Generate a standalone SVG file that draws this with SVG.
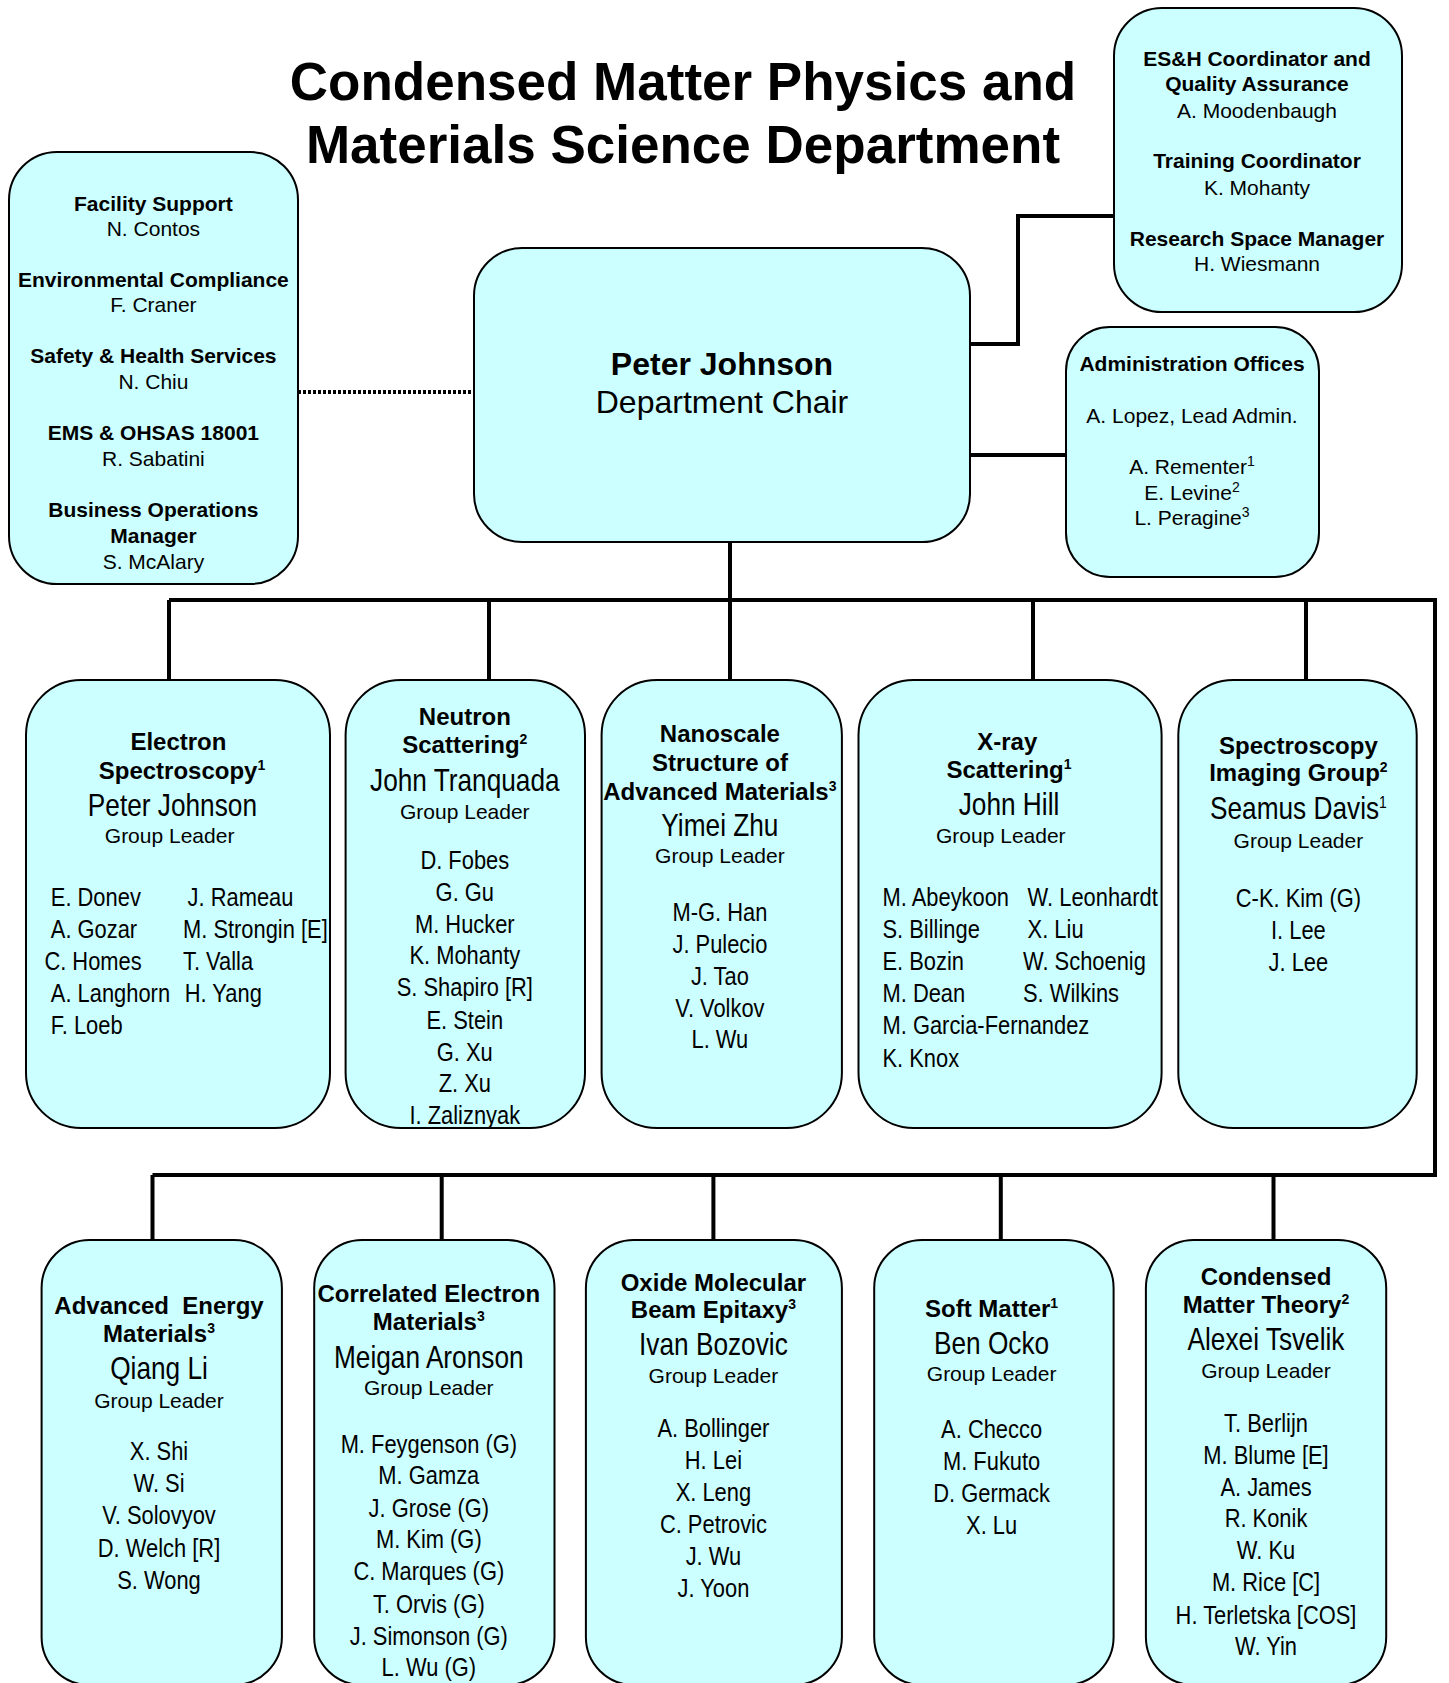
<svg xmlns="http://www.w3.org/2000/svg" width="1449" height="1683" viewBox="0 0 1449 1683">
<style>
.bg{fill:#ffffff}
.box{fill:#CCFFFF;stroke:#000;stroke-width:2}
.ln{fill:none;stroke:#000;stroke-width:4}
.dot{fill:none;stroke:#000;stroke-width:4;stroke-dasharray:3 2}
text{fill:#000;text-anchor:middle}
.t{font-family:"Liberation Sans",Arial,sans-serif;font-weight:bold;font-size:53px}
.b{font-family:"Liberation Sans",Arial,sans-serif;font-weight:bold;font-size:21px}
.r{font-family:"Liberation Sans",Arial,sans-serif;font-size:21px}
.pj{font-family:"Liberation Sans",Arial,sans-serif;font-weight:bold;font-size:32px}
.dc{font-family:"Liberation Sans",Arial,sans-serif;font-size:32px}
.gt{font-family:"Liberation Sans",Arial,sans-serif;font-weight:bold;font-size:24px}
.gn{font-family:"Liberation Sans",Arial,sans-serif;font-size:32px}
.gl{font-family:"Liberation Sans",Arial,sans-serif;font-size:21px}
.m{font-family:"Liberation Sans",Arial,sans-serif;font-size:26.7px}
.lft{text-anchor:start}
.sup{font-size:14px}
.sup2{font-size:17px}
</style>
<rect class="bg" x="0" y="0" width="1449" height="1683"/>

<g id="connectors">
<path class="dot" d="M298,392 H474"/>
<path class="ln" d="M970,344 H1018 V216 H1114"/>
<path class="ln" d="M970,455 H1066"/>
<path class="ln" d="M730,542 V680"/>
<path class="ln" d="M169,600 H1435 V1175 H152.5"/>
<path class="ln" d="M169,600 V680 M489,600 V680 M1033,600 V680 M1306,600 V680"/>
<path class="ln" d="M152.5,1175 V1240 M441.7,1175 V1240 M713.4,1175 V1240 M1000.8,1175 V1240 M1273.5,1175 V1240"/>
</g>

<g id="title">
<text class="t" x="683" y="100">Condensed Matter Physics and</text>
<text class="t" x="683" y="163">Materials Science Department</text>
</g>

<g id="facility">
<rect class="box" x="9" y="152" width="289" height="432" rx="48" ry="48"/>
<text class="b" x="153.4" y="210.5">Facility Support</text>
<text class="r" x="153.4" y="235.6">N. Contos</text>
<text class="b" x="153.4" y="286.6">Environmental Compliance</text>
<text class="r" x="153.4" y="312.4">F. Craner</text>
<text class="b" x="153.4" y="363.3">Safety &amp; Health Services</text>
<text class="r" x="153.4" y="389.2">N. Chiu</text>
<text class="b" x="153.4" y="439.6">EMS &amp; OHSAS 18001</text>
<text class="r" x="153.4" y="465.8">R. Sabatini</text>
<text class="b" x="153.4" y="516.9">Business Operations</text>
<text class="b" x="153.4" y="542.5">Manager</text>
<text class="r" x="153.4" y="568.5">S. McAlary</text>
</g>

<g id="esh">
<rect class="box" x="1114" y="8" width="288" height="304" rx="48" ry="48"/>
<text class="b" x="1257" y="66.4">ES&amp;H Coordinator and</text>
<text class="b" x="1257" y="91.4">Quality Assurance</text>
<text class="r" x="1257" y="117.8">A. Moodenbaugh</text>
<text class="b" x="1257" y="168.2">Training Coordinator</text>
<text class="r" x="1257" y="195">K. Mohanty</text>
<text class="b" x="1257" y="245.5">Research Space Manager</text>
<text class="r" x="1257" y="270.9">H. Wiesmann</text>
</g>

<g id="chair">
<rect class="box" x="474" y="248" width="496" height="294" rx="48" ry="48"/>
<text class="pj" x="722" y="375">Peter Johnson</text>
<text class="dc" x="722" y="413">Department Chair</text>
</g>

<g id="admin">
<rect class="box" x="1066" y="327" width="253" height="250" rx="44" ry="44"/>
<text class="b" x="1192" y="371.3">Administration Offices</text>
<text class="r" x="1192" y="422.7">A. Lopez, Lead Admin.</text>
<text class="r" x="1192" y="474">A. Rementer<tspan class="sup" dy="-8">1</tspan></text>
<text class="r" x="1192" y="499.5">E. Levine<tspan class="sup" dy="-8">2</tspan></text>
<text class="r" x="1192" y="525.4">L. Peragine<tspan class="sup" dy="-8">3</tspan></text>
</g>

<g id="electron">
<rect class="box" x="26" y="680" width="304" height="448" rx="55" ry="55"/>
<text class="gt" x="178.4" y="749.6">Electron</text>
<text class="gt" x="182" y="778.9">Spectroscopy<tspan class="sup" dy="-9">1</tspan></text>
<text class="gn" transform="translate(172.4 815.8) scale(0.82 1)">Peter Johnson</text>
<text class="gl" x="169.6" y="842.7">Group Leader</text>
<text class="m lft" transform="translate(50.8 906.2) scale(0.82 1)">E. Donev</text>
<text class="m lft" transform="translate(50.8 937.7) scale(0.82 1)">A. Gozar</text>
<text class="m lft" transform="translate(44.4 969.7) scale(0.82 1)">C. Homes</text>
<text class="m lft" transform="translate(50.8 1001.6) scale(0.82 1)">A. Langhorn</text>
<text class="m lft" transform="translate(50.8 1033.5) scale(0.82 1)">F. Loeb</text>
<text class="m lft" transform="translate(187.6 906.2) scale(0.82 1)">J. Rameau</text>
<text class="m lft" transform="translate(183 937.7) scale(0.82 1)">M. Strongin [E]</text>
<text class="m lft" transform="translate(183 969.7) scale(0.82 1)">T. Valla</text>
<text class="m lft" transform="translate(184.8 1001.6) scale(0.82 1)">H. Yang</text>
</g>

<g id="neutron">
<rect class="box" x="345.6" y="680" width="239.4" height="448" rx="55" ry="55"/>
<text class="gt" x="464.8" y="725.2">Neutron</text>
<text class="gt" x="464.8" y="753.3">Scattering<tspan class="sup" dy="-9">2</tspan></text>
<text class="gn" transform="translate(464.8 791.3) scale(0.82 1)">John Tranquada</text>
<text class="gl" x="464.8" y="818.8">Group Leader</text>
<text class="m" transform="translate(464.8 869) scale(0.82 1)">D. Fobes</text>
<text class="m" transform="translate(464.8 900.9) scale(0.82 1)">G. Gu</text>
<text class="m" transform="translate(464.8 932.5) scale(0.82 1)">M. Hucker</text>
<text class="m" transform="translate(464.8 964.1) scale(0.82 1)">K. Mohanty</text>
<text class="m" transform="translate(464.8 996.3) scale(0.82 1)">S. Shapiro [R]</text>
<text class="m" transform="translate(464.8 1028.6) scale(0.82 1)">E. Stein</text>
<text class="m" transform="translate(464.8 1060.5) scale(0.82 1)">G. Xu</text>
<text class="m" transform="translate(464.8 1092.1) scale(0.82 1)">Z. Xu</text>
<text class="m" transform="translate(464.8 1124.3) scale(0.82 1)">I. Zaliznyak</text>
</g>

<g id="nanoscale">
<rect class="box" x="601.6" y="680" width="240.3" height="448" rx="55" ry="55"/>
<text class="gt" x="719.9" y="741.6">Nanoscale</text>
<text class="gt" x="719.9" y="770.8">Structure of</text>
<text class="gt" x="719.9" y="800">Advanced Materials<tspan class="sup" dy="-9">3</tspan></text>
<text class="gn" transform="translate(719.9 835.8) scale(0.82 1)">Yimei Zhu</text>
<text class="gl" x="719.9" y="863.4">Group Leader</text>
<text class="m" transform="translate(719.9 920.9) scale(0.82 1)">M-G. Han</text>
<text class="m" transform="translate(719.9 952.8) scale(0.82 1)">J. Pulecio</text>
<text class="m" transform="translate(719.9 984.8) scale(0.82 1)">J. Tao</text>
<text class="m" transform="translate(719.9 1016.6) scale(0.82 1)">V. Volkov</text>
<text class="m" transform="translate(719.9 1048.2) scale(0.82 1)">L. Wu</text>
</g>

<g id="xray">
<rect class="box" x="858.5" y="680" width="303.1" height="448" rx="55" ry="55"/>
<text class="gt" x="1007.3" y="749.8">X-ray</text>
<text class="gt" x="1009" y="777.9">Scattering<tspan class="sup" dy="-9">1</tspan></text>
<text class="gn" transform="translate(1009 814.8) scale(0.82 1)">John Hill</text>
<text class="gl" x="1000.8" y="842.7">Group Leader</text>
<text class="m lft" transform="translate(882.5 906.2) scale(0.82 1)">M. Abeykoon</text>
<text class="m lft" transform="translate(882.5 937.7) scale(0.82 1)">S. Billinge</text>
<text class="m lft" transform="translate(882.5 969.7) scale(0.82 1)">E. Bozin</text>
<text class="m lft" transform="translate(882.5 1001.6) scale(0.82 1)">M. Dean</text>
<text class="m lft" transform="translate(882.5 1033.5) scale(0.82 1)">M. Garcia-Fernandez</text>
<text class="m lft" transform="translate(882.5 1066.5) scale(0.82 1)">K. Knox</text>
<text class="m lft" transform="translate(1027.6 906.2) scale(0.82 1)">W. Leonhardt</text>
<text class="m lft" transform="translate(1027.6 937.7) scale(0.82 1)">X. Liu</text>
<text class="m lft" transform="translate(1023 969.7) scale(0.82 1)">W. Schoenig</text>
<text class="m lft" transform="translate(1023 1001.6) scale(0.82 1)">S. Wilkins</text>
</g>

<g id="spectroscopy-imaging">
<rect class="box" x="1178.3" y="680" width="238.4" height="448" rx="55" ry="55"/>
<text class="gt" x="1298.4" y="754">Spectroscopy</text>
<text class="gt" x="1298.4" y="781.4">Imaging Group<tspan class="sup" dy="-9">2</tspan></text>
<text class="gn" transform="translate(1298.4 819.3) scale(0.82 1)">Seamus Davis<tspan class="sup2" dy="-11">1</tspan></text>
<text class="gl" x="1298.4" y="847.6">Group Leader</text>
<text class="m" transform="translate(1298.4 906.9) scale(0.82 1)">C-K. Kim (G)</text>
<text class="m" transform="translate(1298.4 939.2) scale(0.82 1)">I. Lee</text>
<text class="m" transform="translate(1298.4 970.7) scale(0.82 1)">J. Lee</text>
</g>

<g id="advanced-energy">
<rect class="box" x="41.6" y="1240" width="240.3" height="445" rx="48" ry="48"/>
<text class="gt" x="159" y="1314.3" xml:space="preserve">Advanced  Energy</text>
<text class="gt" x="159" y="1342.1">Materials<tspan class="sup" dy="-9">3</tspan></text>
<text class="gn" transform="translate(159 1379) scale(0.82 1)">Qiang Li</text>
<text class="gl" x="159" y="1408">Group Leader</text>
<text class="m" transform="translate(159 1460.4) scale(0.82 1)">X. Shi</text>
<text class="m" transform="translate(159 1492) scale(0.82 1)">W. Si</text>
<text class="m" transform="translate(159 1524) scale(0.82 1)">V. Solovyov</text>
<text class="m" transform="translate(159 1556.6) scale(0.82 1)">D. Welch [R]</text>
<text class="m" transform="translate(159 1588.9) scale(0.82 1)">S. Wong</text>
</g>

<g id="correlated">
<rect class="box" x="314.2" y="1240" width="240.3" height="445" rx="48" ry="48"/>
<text class="gt" x="428.8" y="1302.4">Correlated Electron</text>
<text class="gt" x="428.8" y="1330.3">Materials<tspan class="sup" dy="-9">3</tspan></text>
<text class="gn" transform="translate(428.8 1367.8) scale(0.82 1)">Meigan Aronson</text>
<text class="gl" x="428.8" y="1395.4">Group Leader</text>
<text class="m" transform="translate(428.8 1452.9) scale(0.82 1)">M. Feygenson (G)</text>
<text class="m" transform="translate(428.8 1484.2) scale(0.82 1)">M. Gamza</text>
<text class="m" transform="translate(428.8 1516.5) scale(0.82 1)">J. Grose (G)</text>
<text class="m" transform="translate(428.8 1548.1) scale(0.82 1)">M. Kim (G)</text>
<text class="m" transform="translate(428.8 1580.4) scale(0.82 1)">C. Marques (G)</text>
<text class="m" transform="translate(428.8 1612.7) scale(0.82 1)">T. Orvis (G)</text>
<text class="m" transform="translate(428.8 1644.6) scale(0.82 1)">J. Simonson (G)</text>
<text class="m" transform="translate(428.8 1676.3) scale(0.82 1)">L. Wu (G)</text>
</g>

<g id="oxide-mbe">
<rect class="box" x="585.9" y="1240" width="256" height="445" rx="48" ry="48"/>
<text class="gt" x="713.4" y="1290.5">Oxide Molecular</text>
<text class="gt" x="713.4" y="1318.4">Beam Epitaxy<tspan class="sup" dy="-9">3</tspan></text>
<text class="gn" transform="translate(713.4 1355.2) scale(0.82 1)">Ivan Bozovic</text>
<text class="gl" x="713.4" y="1382.5">Group Leader</text>
<text class="m" transform="translate(713.4 1437.3) scale(0.82 1)">A. Bollinger</text>
<text class="m" transform="translate(713.4 1468.9) scale(0.82 1)">H. Lei</text>
<text class="m" transform="translate(713.4 1501.2) scale(0.82 1)">X. Leng</text>
<text class="m" transform="translate(713.4 1532.5) scale(0.82 1)">C. Petrovic</text>
<text class="m" transform="translate(713.4 1564.8) scale(0.82 1)">J. Wu</text>
<text class="m" transform="translate(713.4 1597.1) scale(0.82 1)">J. Yoon</text>
</g>

<g id="soft-matter">
<rect class="box" x="874.2" y="1240" width="239.4" height="445" rx="48" ry="48"/>
<text class="gt" x="991.6" y="1316.6">Soft Matter<tspan class="sup" dy="-9">1</tspan></text>
<text class="gn" transform="translate(991.6 1353.5) scale(0.82 1)">Ben Ocko</text>
<text class="gl" x="991.6" y="1381.2">Group Leader</text>
<text class="m" transform="translate(991.6 1438.3) scale(0.82 1)">A. Checco</text>
<text class="m" transform="translate(991.6 1469.9) scale(0.82 1)">M. Fukuto</text>
<text class="m" transform="translate(991.6 1501.9) scale(0.82 1)">D. Germack</text>
<text class="m" transform="translate(991.6 1533.5) scale(0.82 1)">X. Lu</text>
</g>

<g id="cm-theory">
<rect class="box" x="1145.9" y="1240" width="240.3" height="445" rx="48" ry="48"/>
<text class="gt" x="1266" y="1285">Condensed</text>
<text class="gt" x="1266" y="1313.3">Matter Theory<tspan class="sup" dy="-9">2</tspan></text>
<text class="gn" transform="translate(1266 1350.1) scale(0.82 1)">Alexei Tsvelik</text>
<text class="gl" x="1266" y="1378.4">Group Leader</text>
<text class="m" transform="translate(1266 1431.5) scale(0.82 1)">T. Berlijn</text>
<text class="m" transform="translate(1266 1463.8) scale(0.82 1)">M. Blume [E]</text>
<text class="m" transform="translate(1266 1496.1) scale(0.82 1)">A. James</text>
<text class="m" transform="translate(1266 1527.4) scale(0.82 1)">R. Konik</text>
<text class="m" transform="translate(1266 1559) scale(0.82 1)">W. Ku</text>
<text class="m" transform="translate(1266 1591.3) scale(0.82 1)">M. Rice [C]</text>
<text class="m" transform="translate(1266 1623.6) scale(0.82 1)">H. Terletska [COS]</text>
<text class="m" transform="translate(1266 1655.2) scale(0.82 1)">W. Yin</text>
</g>
</svg>
